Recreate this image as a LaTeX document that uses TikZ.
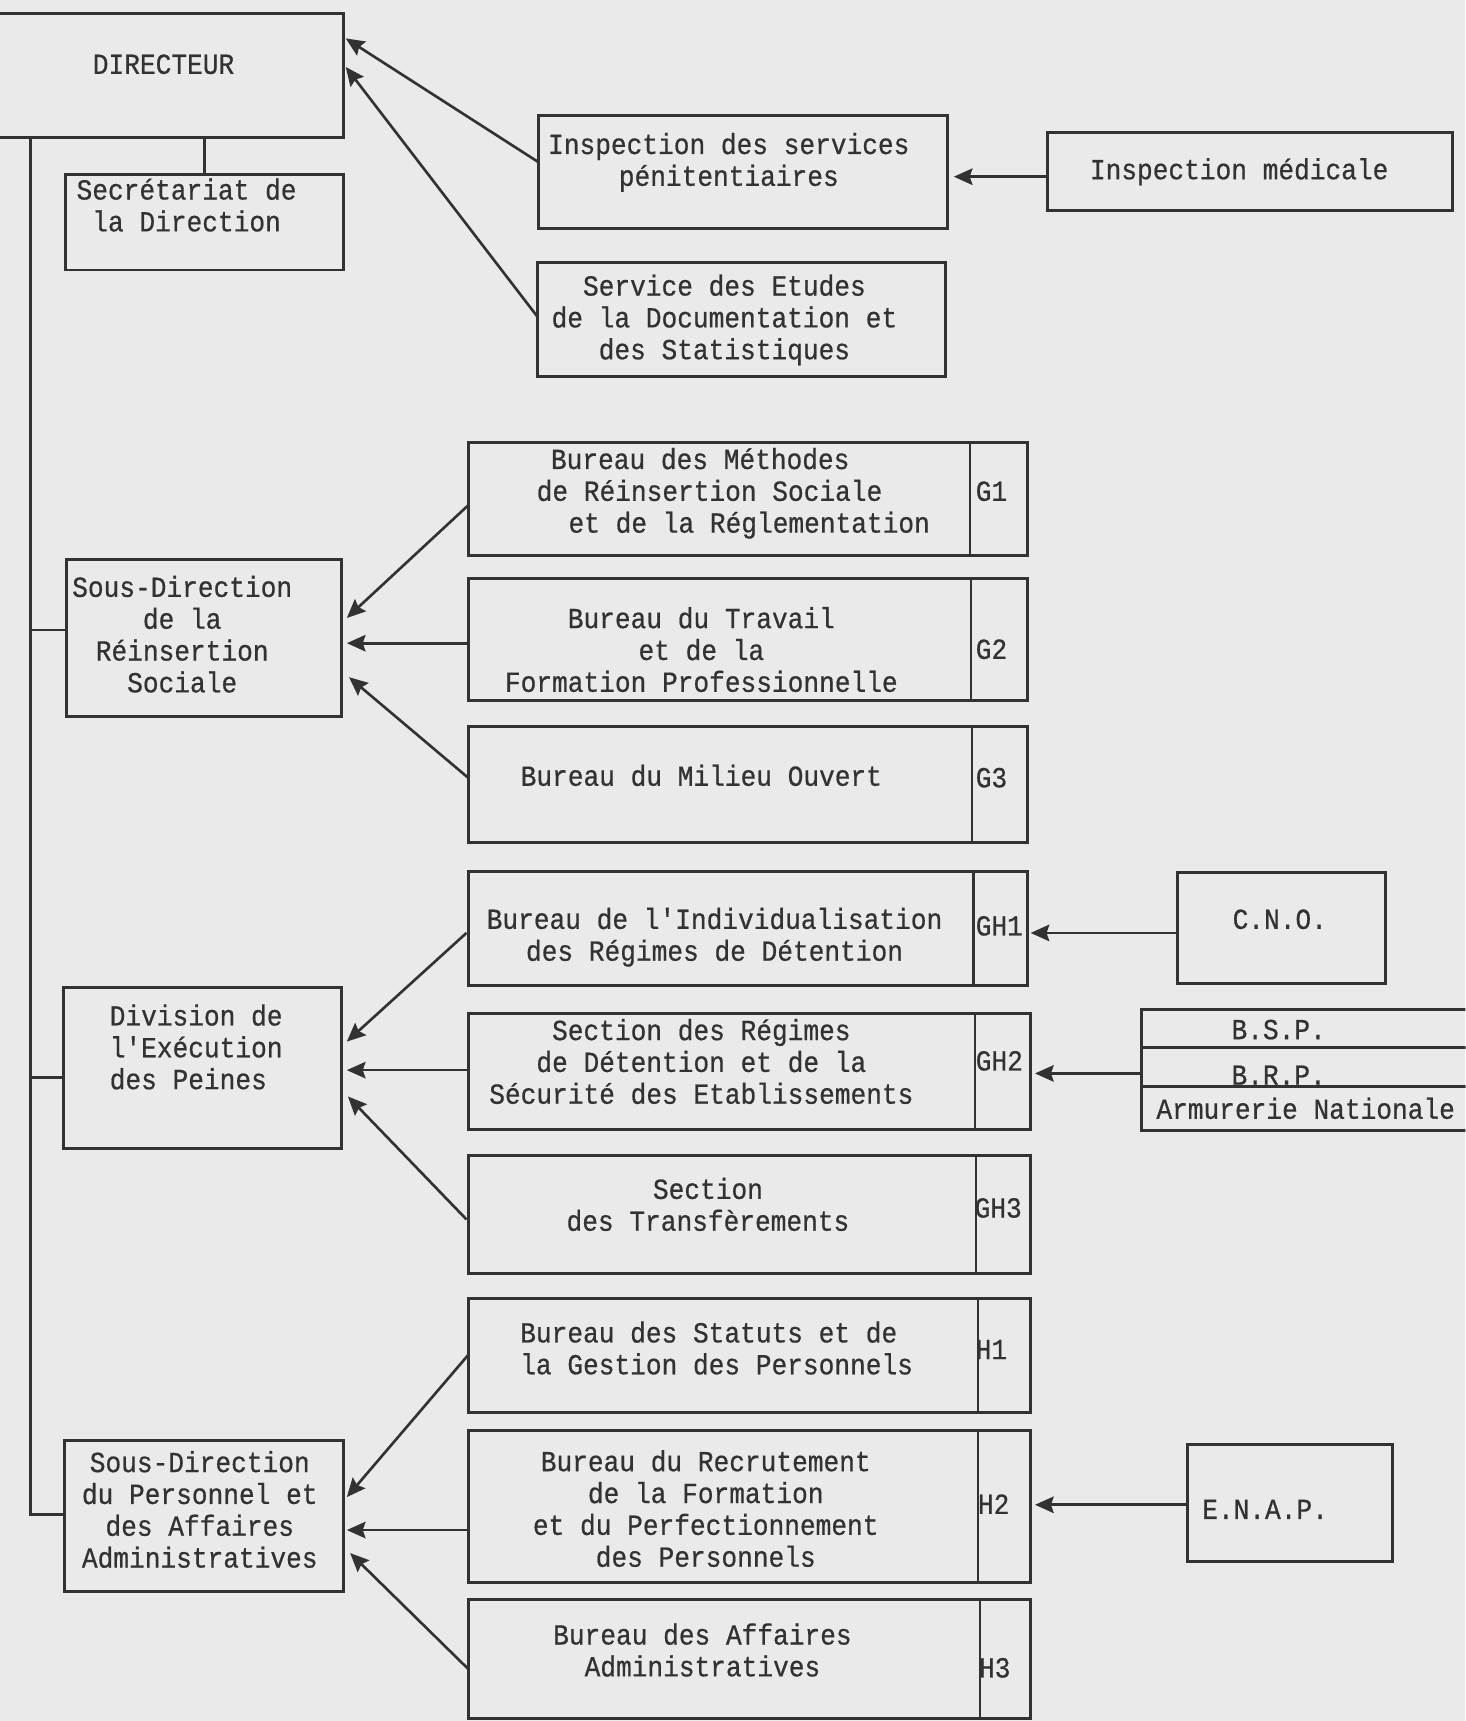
\documentclass[tikz,border=0pt]{standalone}
\usepackage{fontspec}
\newfontfamily\mono[FakeStretch=0.9,FakeBold=0.6]{Liberation Mono}
\usetikzlibrary{arrows.meta,fit}
\definecolor{paper}{RGB}{234,234,234}
\definecolor{ink}{RGB}{50,50,50}
\tikzset{
  box/.style={draw=ink, line width=2.7pt, inner sep=0pt, outer sep=0pt},
  txt/.style={font=\mono\fontsize{26.5}{29}\selectfont, text=ink, inner sep=0pt, outer sep=0pt, align=center, yshift=-2.5pt},
  lab/.style={txt, anchor=west},
  conn/.style={draw=ink, line width=2.7pt},
  divl/.style={draw=ink, line width=2pt},
  arr/.style={draw=ink, line width=2.4pt, -{Stealth[length=17pt,width=15pt,inset=2.5pt]}},
}
\begin{document}
\begin{tikzpicture}[x=1pt,y=-1pt]
\clip (0,0) rectangle (1335,1568);
\fill[paper] (0,0) rectangle (1335,1568);

% ---------- boxes ----------
\node[box, fit={(-20,12) (313,125)}] (Dir) {};
\node[box, fit={(60,159) (313,246)}] (Sec) {};
\node[box, fit={(491,105) (863,208)}] (Insp) {};
\node[box, fit={(954,121) (1323,192)}] (Med) {};
\node[box, fit={(490,239) (861,343)}] (Etud) {};

\node[box, fit={(427,403) (936,506)}] (G1) {};
\node[box, fit={(427,527) (936,638)}] (G2) {};
\node[box, fit={(427,662) (936,768)}] (G3) {};
\node[box, fit={(427,794) (936,898)}] (GH1) {};
\node[box, fit={(427,923) (939,1029)}] (GH2) {};
\node[box, fit={(427,1053) (939,1160)}] (GH3) {};
\node[box, fit={(427,1183) (939,1287)}] (H1) {};
\node[box, fit={(427,1303) (939,1442)}] (H2) {};
\node[box, fit={(427,1457) (939,1566)}] (H3) {};

\node[box, fit={(61,510) (311,653)}] (SDR) {};
\node[box, fit={(58,900) (311,1046)}] (Div) {};
\node[box, fit={(59,1312) (313,1450)}] (SDP) {};

\node[box, fit={(1073,795) (1262,896)}] (CNO) {};
\node[box, fit={(1040,920) (1350,954)}] (BSP) {};
\node[box, fit={(1040,954) (1350,990)}] (BRP) {};
\node[box, fit={(1040,990) (1350,1030)}] (ARM) {};
\node[box, fit={(1082,1316) (1269,1423)}] (ENAP) {};

% ---------- dividers of the code column ----------
\draw[divl] ([xshift=-52]G1.north east) -- ([xshift=-52]G1.south east);
\draw[divl] ([xshift=-51]G2.north east) -- ([xshift=-51]G2.south east);
\draw[divl] ([xshift=-50.5]G3.north east) -- ([xshift=-50.5]G3.south east);
\draw[divl] ([xshift=-49]GH1.north east) -- ([xshift=-49]GH1.south east);
\draw[divl] ([xshift=-51]GH2.north east) -- ([xshift=-51]GH2.south east);
\draw[divl] ([xshift=-50]GH3.north east) -- ([xshift=-50]GH3.south east);
\draw[divl] ([xshift=-48]H1.north east) -- ([xshift=-48]H1.south east);
\draw[divl] ([xshift=-48]H2.north east) -- ([xshift=-48]H2.south east);
\draw[divl] ([xshift=-46]H3.north east) -- ([xshift=-46]H3.south east);

% ---------- texts ----------
\node[txt] (tDir) at (149,59) {\strut DIRECTEUR};
\node[txt] (tSec) at (170,188) {\strut Secrétariat de\\ \strut la Direction};
\node[txt] (tInsp) at (664,146.5) {\strut Inspection des services\\ \strut pénitentiaires};
\node[txt] (tMed) at (1129,155) {\strut Inspection médicale};
\node[txt] (tEtud) at (660,290) {\strut Service des Etudes\\ \strut de la Documentation et\\ \strut des Statistiques};

\node[txt, align=left, anchor=west] (tG1) at (489,448) {\hspace*{13pt}\strut Bureau des Méthodes\\ \strut de Réinsertion Sociale\\ \hspace*{29pt}\strut et de la Réglementation};
\node[txt] (tG2) at (639,593) {\strut Bureau du Travail\\ \strut et de la\\ \strut Formation Professionnelle};
\node[txt] (tG3) at (639,707.6) {\strut Bureau du Milieu Ouvert};
\node[txt] (tGH1) at (651,852.5) {\strut Bureau de l'Individualisation\\ \strut des Régimes de Détention};
\node[txt] (tGH2) at (639,968.3) {\strut Section des Régimes\\ \strut de Détention et de la\\ \strut Sécurité des Etablissements};
\node[txt] (tGH3) at (645,1098.5) {\strut Section\\ \strut des Transfèrements};
\node[txt, align=left, anchor=west] (tH1) at (474,1229.3) {\strut Bureau des Statuts et de\\ \strut la Gestion des Personnels};
\node[txt] (tH2) at (643,1375.6) {\strut Bureau du Recrutement\\ \strut de la Formation\\ \strut et du Perfectionnement\\ \strut des Personnels};
\node[txt] (tH3) at (640,1504.5) {\strut Bureau des Affaires\\ \strut Administratives};

\node[txt] (tSDR) at (166,579) {\strut Sous-Direction\\ \strut de la\\ \strut Réinsertion\\ \strut Sociale};
\node[txt, align=left, anchor=west] (tDiv) at (100,955) {\strut Division de\\ \strut l'Exécution\\ \strut des Peines};
\node[txt] (tSDP) at (182,1376.4) {\strut Sous-Direction\\ \strut du Personnel et\\ \strut des Affaires\\ \strut Administratives};

\node[txt] (tCNO) at (1166,838) {\strut C.N.O.};
\node[txt] (tBSP) at (1165,938.5) {\strut B.S.P.};
\node[txt] (tBRP) at (1165,980) {\strut B.R.P.};
\node[txt] (tARM) at (1189.6,1011) {\strut Armurerie Nationale};
\node[txt] (tENAP) at (1152.6,1375.6) {\strut E.N.A.P.};

% ---------- code labels ----------
\node[lab] (lG1) at (889,448) {\strut G1};
\node[lab] (lG2) at (889,592) {\strut G2};
\node[lab] (lG3) at (889,709) {\strut G3};
\node[lab] (lGH1) at (889,844) {\strut GH1};
\node[lab] (lGH2) at (889,967) {\strut GH2};
\node[lab] (lGH3) at (888,1101) {\strut GH3};
\node[lab] (lH1) at (889,1230) {\strut H1};
\node[lab] (lH2) at (891,1371) {\strut H2};
\node[lab] (lH3) at (892,1520) {\strut H3};

% ---------- hierarchy lines ----------
\coordinate (tk) at (28,125);
\draw[conn] (Sec.north) -- (Sec.north |- Dir.south);
\draw[conn] (tk) |- ([yshift=1]SDP.west);
\draw[conn] ([yshift=7.5]SDR.west) -- ([yshift=7.5]SDR.west -| tk);
\draw[conn] ([yshift=-9]Div.west) -- ([yshift=-9]Div.west -| tk);

% ---------- arrows ----------
\draw[arr] ([yshift=8.5]Insp.west) -- ([xshift=2,yshift=33.5]Dir.east);
\draw[arr] ([yshift=2]Etud.west) -- ([xshift=2,yshift=7.5]Dir.east);
\draw[arr] ([yshift=-4.5]Med.west) -- ([xshift=6,yshift=-4.5]Insp.east);

\draw[arr] ([yshift=-5.5]G1.west) -- ([xshift=5,yshift=18.5]SDR.east);
\draw[arr] ([yshift=-3.5]G2.west) -- ([xshift=5,yshift=-4.5]SDR.east);
\draw[arr] ([yshift=6]G3.west) -- ([xshift=7,yshift=-35.5]SDR.east);

\draw[arr] ([xshift=-2,yshift=-4]GH1.west) -- ([xshift=5,yshift=24]Div.east);
\draw[arr] ([yshift=1]GH2.west) -- ([xshift=5,yshift=-2]Div.east);
\draw[arr] ([xshift=-2,yshift=-4.5]GH3.west) -- ([xshift=6,yshift=-26]Div.east);

\draw[arr] ([yshift=1]H1.west) -- ([xshift=3,yshift=17]SDP.east);
\draw[arr] ([yshift=-21.5]H2.west) -- ([xshift=3,yshift=-13]SDP.east);
\draw[arr] ([yshift=-9.5]H3.west) -- ([xshift=6,yshift=-34]SDP.east);

\draw[arr] ([yshift=-4.5]CNO.west) -- ([xshift=3,yshift=-4]GH1.east);
\draw[arr] ([yshift=-6]BRP.west) -- ([xshift=4,yshift=-2]GH2.east);
\draw[arr] ([yshift=-1.5]ENAP.west) -- ([xshift=4,yshift=1.5]H2.east);
\end{tikzpicture}
\end{document}
